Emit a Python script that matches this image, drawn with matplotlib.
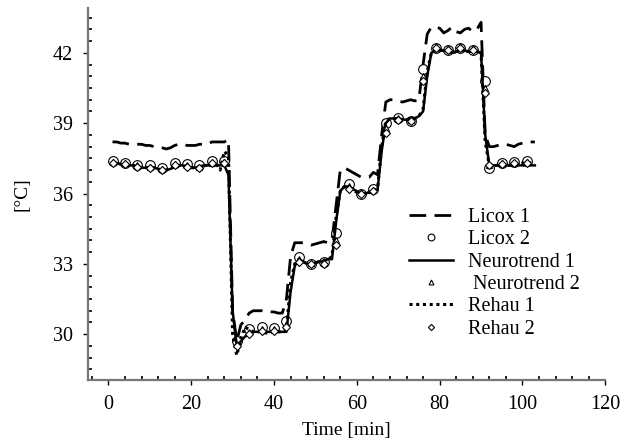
import matplotlib
matplotlib.use("Agg")
import matplotlib.pyplot as plt
import numpy as np
from matplotlib.ticker import MultipleLocator

plt.rcParams["font.family"] = ["Liberation Serif", "DejaVu Serif"]

# time grid of the continuous probes [min]
t_line = np.arange(1, 104)

licox_1 = [
    38.2, 38.2, 38.15, 38.15, 38.1, 38.1, 38.1, 38.1, 38.05, 38.05,
    38.0, 38.0, 37.95, 37.9, 37.95, 38.05, 38.1, 38.1, 38.05, 38.05,
    38.05, 38.1, 38.1, 38.1, 38.2, 38.2, 38.2, 38.2,
    38.3, 31.0, 29.7, 30.4, 30.6, 30.9, 31.0,
    31.0, 31.0, 30.95, 30.95, 30.95, 30.9, 30.9, 31.5,
    33.3, 33.9, 33.9, 33.9, 33.85, 33.8, 33.85, 33.9, 33.95, 33.9, 34.0,
    35.5, 37.0, 37.1, 37.0, 36.9, 36.8, 36.7, 36.7, 36.7, 36.9, 36.8,
    38.5, 39.9, 40.0, 40.0, 39.95, 39.9, 39.95, 40.0, 39.95, 40.0, 41.5,
    42.8, 43.1, 43.1,
    43.05, 42.85, 42.95, 43.1, 42.9, 42.85, 43.0, 43.05, 42.9, 43.0,
    43.3, 38.5, 38.0,
    38.0, 38.05, 38.1, 38.1, 38.05, 38.0, 38.1, 38.15, 38.2, 38.2, 38.2,
]

neurotrend_1 = [
    37.3, 37.3, 37.25, 37.2, 37.2, 37.2, 37.15, 37.1, 37.1, 37.1,
    37.1, 37.05, 37.0, 37.0, 37.05, 37.15, 37.2, 37.2, 37.15, 37.1,
    37.1, 37.15, 37.2, 37.2, 37.2, 37.2, 37.2, 37.2,
    36.8, 31.0, 29.5, 29.7, 29.9, 30.0, 30.1,
    30.1, 30.1, 30.1, 30.1, 30.1, 30.1, 30.1, 30.1,
    31.8, 32.9, 33.2, 33.1, 33.0, 33.0, 33.05, 33.1, 33.1, 33.2, 33.2,
    34.8, 36.1, 36.3, 36.3, 36.2, 36.1, 36.0, 36.0, 36.05, 36.1, 36.15,
    37.8, 39.0, 39.2, 39.2, 39.2, 39.15, 39.15, 39.2, 39.2, 39.3, 39.5,
    41.0, 42.0, 42.1,
    42.1, 42.1, 42.05, 42.0, 42.05, 42.1, 42.1, 42.05, 42.05, 42.05,
    42.0, 38.5, 37.2,
    37.2, 37.2, 37.2, 37.2, 37.2, 37.2, 37.2, 37.2, 37.2, 37.2, 37.2,
]

rehau_1 = [
    37.3, 37.3, 37.25, 37.2, 37.2, 37.2, 37.15, 37.1, 37.1, 37.1,
    37.1, 37.05, 37.0, 37.0, 37.05, 37.15, 37.2, 37.2, 37.15, 37.1,
    37.1, 37.15, 37.2, 37.2, 37.25, 37.3, 37.0, 37.8,
    37.6, 30.0, 29.1, 29.8, 30.3, 30.2, 30.1,
    30.1, 30.1, 30.05, 30.05, 30.1, 30.1, 30.1, 30.2,
    32.2, 33.0, 33.2, 33.1, 33.0, 33.0, 33.05, 33.1, 33.15, 33.2, 33.3,
    35.0, 36.1, 36.3, 36.25, 36.15, 36.05, 36.0, 36.0, 36.05, 36.1, 36.2,
    38.0, 39.1, 39.2, 39.2, 39.2, 39.15, 39.15, 39.2, 39.2, 39.3, 39.6,
    41.2, 42.0, 42.1,
    42.1, 42.1, 42.05, 42.0, 42.05, 42.1, 42.1, 42.05, 42.05, 42.1,
    42.0, 38.2, 37.2,
    37.2, 37.2, 37.25, 37.25, 37.2, 37.2, 37.25, 37.3, 37.3, 37.3, 37.3,
]

# sampled probes [min]
t_marker = [1, 4, 7, 10, 13, 16, 19, 22, 25, 28, 31, 34, 37, 40, 43, 46,
            49, 52, 55, 58, 61, 64, 67, 70, 73, 76, 79, 82, 85, 88, 91, 92,
            95, 98, 101]

licox_2 = [37.4, 37.3, 37.2, 37.2, 37.1, 37.3, 37.25, 37.2, 37.4, 37.4,
           29.7, 30.2, 30.3, 30.25, 30.55, 33.3, 33.0, 33.1, 34.3, 36.4,
           36.0, 36.2, 39.0, 39.2, 39.1, 41.3, 42.2, 42.1, 42.2, 42.1,
           40.8, 37.1, 37.3, 37.35, 37.4]

neurotrend_2 = [37.35, 37.3, 37.2, 37.15, 37.05, 37.25, 37.2, 37.15, 37.3,
                37.35, 29.6, 30.1, 30.2, 30.2, 30.4, 33.2, 33.05, 33.05,
                34.0, 36.3, 36.05, 36.15, 38.8, 39.2, 39.15, 41.0, 42.3,
                42.2, 42.3, 42.2, 40.5, 37.2, 37.3, 37.3, 37.35]

rehau_2 = [37.3, 37.25, 37.15, 37.1, 37.0, 37.2, 37.15, 37.1, 37.3, 37.3,
           29.5, 30.0, 30.15, 30.15, 30.3, 33.1, 33.0, 33.0, 33.8, 36.2,
           36.0, 36.1, 38.6, 39.15, 39.1, 40.8, 42.2, 42.1, 42.2, 42.1,
           40.3, 37.2, 37.25, 37.3, 37.3]

fig = plt.figure(figsize=(6.33, 4.48), dpi=100)
ax = fig.add_axes([0.1385, 0.152, 0.8177, 0.8295])

ax.plot(t_line, licox_1, color="black", lw=2.0, ls=(0, (6, 3)),
        label="Licox 1")
ax.plot(t_marker, licox_2, ls="none", marker="o", ms=7, mfc="white",
        mec="black", mew=0.8, label="Licox 2")
ax.plot(t_line, neurotrend_1, color="black", lw=1.8, label="Neurotrend 1")
ax.plot(t_marker, neurotrend_2, ls="none", marker="^", ms=5, mfc="white",
        mec="black", mew=0.8, label=" Neurotrend 2")
ax.plot(t_line, rehau_1, color="black", lw=2.2, ls=(0, (1, 1.2)),
        label="Rehau 1")
ax.plot(t_marker, rehau_2, ls="none", marker="D", ms=4.5, mfc="white",
        mec="black", mew=0.8, label="Rehau 2")

ax.set_xlim(-5, 120)
ax.set_ylim(28.05, 43.9)
ax.xaxis.set_major_locator(MultipleLocator(20))
ax.xaxis.set_minor_locator(MultipleLocator(4))
ax.yaxis.set_major_locator(MultipleLocator(3))
ax.yaxis.set_minor_locator(MultipleLocator(0.5))

for side in ("top", "right"):
    ax.spines[side].set_visible(False)
for side in ("left", "bottom"):
    ax.spines[side].set_color("#777777")
    ax.spines[side].set_linewidth(1.6)

ax.tick_params(which="major", direction="out", length=3.8, width=1.0,
               labelsize=14.5, pad=7)
ax.tick_params(which="minor", direction="in", length=3, width=1.2)

ax.set_xlabel("Time [min]", fontsize=14, labelpad=6)
ax.set_ylabel("[°C]", fontsize=14, labelpad=16)

ax.legend(loc="upper left", bbox_to_anchor=(0.646, 0.536),
          bbox_transform=fig.transFigure,
          frameon=False, fontsize=14.5, handlelength=2.2, handletextpad=0.75,
          labelspacing=0.16, markerscale=0.7, borderpad=0, borderaxespad=0)

fig.savefig("out.png", dpi=100)
